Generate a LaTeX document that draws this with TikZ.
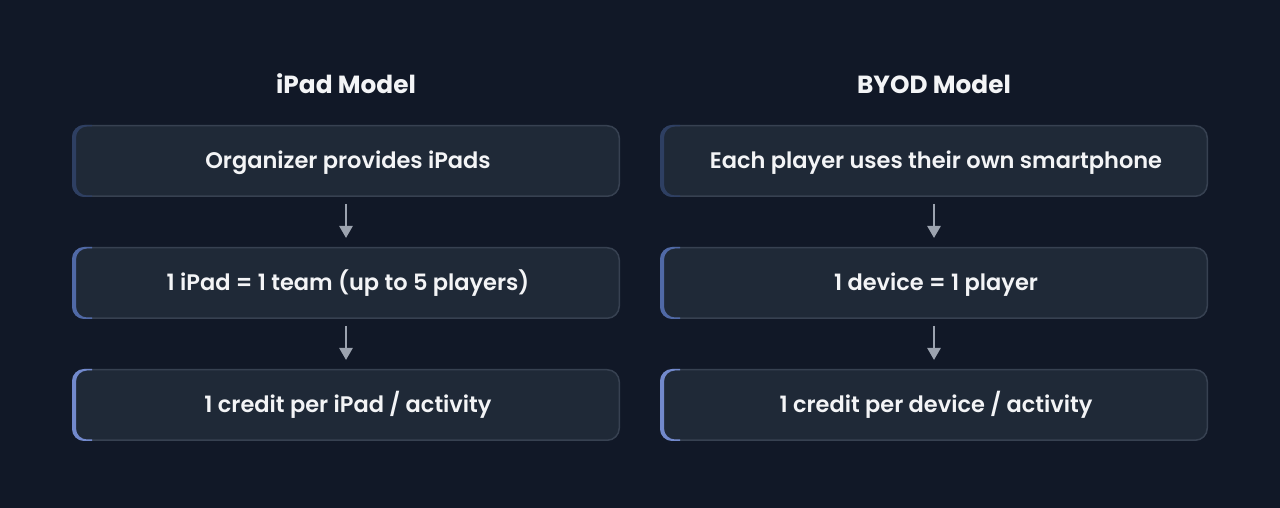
\documentclass[tikz,border=0pt]{standalone}
\usepackage{fontspec}
\setmainfont{Poppins}[UprightFont=* SemiBold, BoldFont=* Bold]
\usetikzlibrary{arrows.meta}
\definecolor{bg}{HTML}{111827}
\definecolor{boxfill}{HTML}{1F2937}
\definecolor{boxline}{HTML}{374151}
\definecolor{accA}{HTML}{2E3F62}
\definecolor{accB}{HTML}{5069A6}
\definecolor{accC}{HTML}{7289CC}
\definecolor{arr}{HTML}{9CA3AF}
\definecolor{txt}{HTML}{F3F4F6}
\tikzset{
  title/.style={text=txt, anchor=base, font=\fontsize{24.8}{28}\selectfont\bfseries},
  label/.style={text=txt, anchor=base, inner sep=0pt, font=\fontsize{22.5}{26}\selectfont},
  flow/.style={draw=arr, line width=2.5pt, -{Triangle[length=12pt,width=13pt]}},
}
\newcommand{\stepbox}[7]{% name, x1, y1(top px), x2, y2(bottom px), accent, text
  \draw[fill=boxfill, draw=boxline, line width=1.5pt, rounded corners=12pt] (#2+0.75,508-#3-0.75) rectangle (#4-0.75,508-#5+0.75);
  \begin{scope}
    \clip (#2,508-#3) rectangle (#2+20,508-#5);
    \fill[#6, even odd rule] [rounded corners=12pt] (#2,508-#3) rectangle (#4,508-#5) [rounded corners=11pt] (#2+4,508-#3-1.5) rectangle (#4,508-#5+1.5);
  \end{scope}
  \node[label] (#1) at ({(#2+#4)/2+2},{508-(#3+#5)/2-8}) {#7};
}
\begin{document}
\begin{tikzpicture}[x=1pt,y=1pt]
\fill[bg] (0,0) rectangle (1280,508);
\useasboundingbox (0,0) rectangle (1280,508);
\node[title] (t1) at (346,508-85-8.8) {iPad Model};
\node[title] (t2) at (934,508-85-8.8) {BYOD Model};
\stepbox{a1}{72}{125}{620}{197}{accA}{Organizer provides iPads}
\stepbox{a2}{72}{247}{620}{319}{accB}{1 iPad = 1 team (up to 5 players)}
\stepbox{a3}{72}{369}{620}{441}{accC}{1 credit per iPad / activity}
\stepbox{b1}{660}{125}{1208}{197}{accA}{Each player uses their own smartphone}
\stepbox{b2}{660}{247}{1208}{319}{accB}{1 device = 1 player}
\stepbox{b3}{660}{369}{1208}{441}{accC}{1 credit per device / activity}
\coordinate (a1s) at (346,508-204);
\coordinate (a1e) at (346,508-238);
\coordinate (a2s) at (346,508-326);
\coordinate (a2e) at (346,508-360);
\coordinate (b1s) at (934,508-204);
\coordinate (b1e) at (934,508-238);
\coordinate (b2s) at (934,508-326);
\coordinate (b2e) at (934,508-360);
\draw[flow] (a1s) -- (a1e);
\draw[flow] (a2s) -- (a2e);
\draw[flow] (b1s) -- (b1e);
\draw[flow] (b2s) -- (b2e);
\end{tikzpicture}
\end{document}
